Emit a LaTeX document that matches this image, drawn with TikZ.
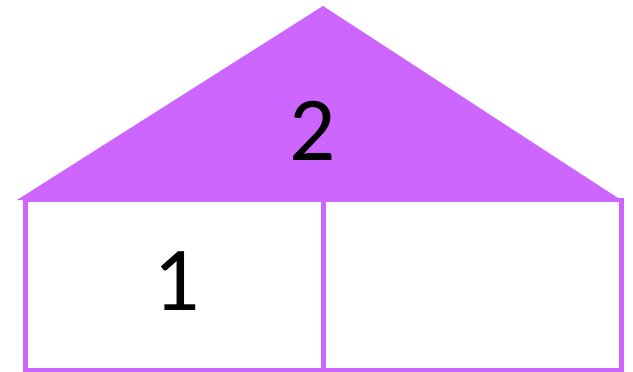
\documentclass[tikz,border=0pt]{standalone}
\usepackage{fontspec}
\setmainfont{Carlito}
\usepackage{tikz}
\usetikzlibrary{positioning,calc}
\definecolor{bondpurple}{HTML}{CC66FF}

\begin{document}
\begin{tikzpicture}[
			x=0.02cm, y=-0.02cm,
			roof/.style={fill=bondpurple,draw=none},
			part/.style={draw=bondpurple,line width=4.5*0.02cm,fill=white},
			digit/.style={font=\fontsize{52}{52}\selectfont,inner sep=0pt}]

		\useasboundingbox (0,0) rectangle (633,372);
		\fill[roof] (17,200) -- (323,6) -- (621,200) -- cycle;
		\draw[part] (25.5,200) rectangle (323.5,370.5);
		\draw[part] (323.5,200) rectangle (621.5,370.5);

		\node[digit]  (whole) at (312.5,131) {2};
		\node[digit]  (partA) at (177,281.5) {1};
	\end{tikzpicture}
\end{document}
